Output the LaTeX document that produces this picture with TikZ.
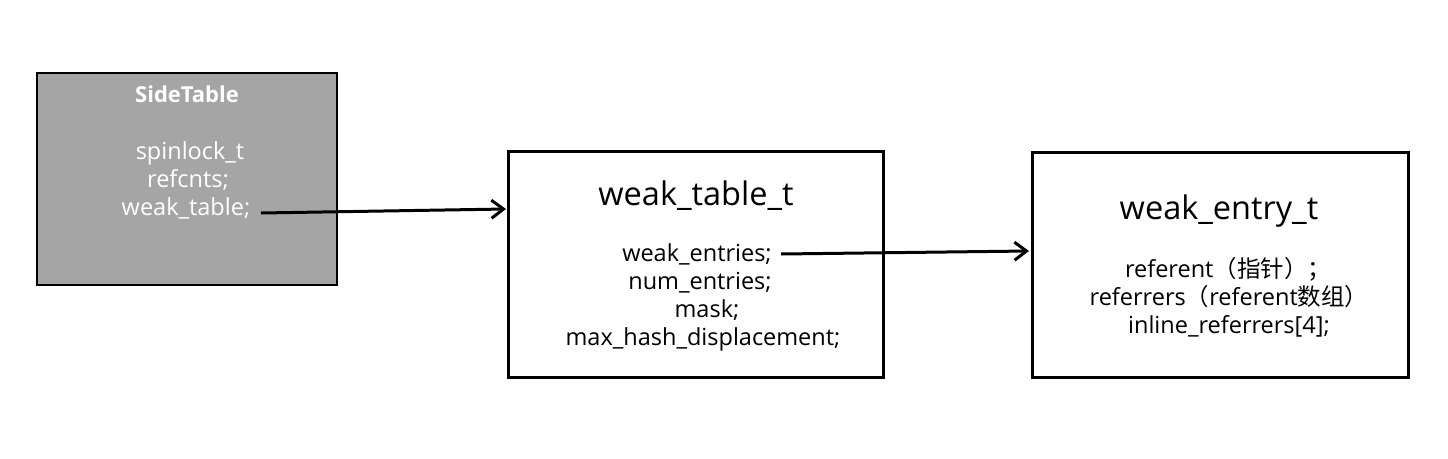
\documentclass[tikz,border=0pt]{standalone}
\usepackage{fontspec}
\setmainfont{Open Sans}
\newfontfamily\cjk{Noto Sans CJK SC}
\usetikzlibrary{arrows.meta}
\definecolor{sidegray}{RGB}{165,165,165}
\tikzset{
  boxnode/.style={draw=black, line width=3pt, minimum width=#1, inner sep=0pt},
  sidenode/.style={draw=black, fill=sidegray, line width=2pt, inner sep=0pt},
  txt/.style={inner sep=0pt, anchor=base, font=\fontsize{23.5}{28}\selectfont},
  ttl/.style={inner sep=0pt, anchor=base, font=\fontsize{32.5}{38}\selectfont},
  wtxt/.style={txt, text=white},
  conn/.style={line width=3pt, -{Straight Barb[length=12pt,width=18pt,line width=3pt]}}
}
\begin{document}
\begin{tikzpicture}[x=1pt,y=-1pt]
\useasboundingbox[fill=white] (0,0) rectangle (1448,458);
% boxes
\node[sidenode, minimum width=300pt, minimum height=212pt] (side) at (187,179) {};
\node[boxnode=375pt, minimum height=226pt] (wt) at (695.5,264) {};
\node[boxnode=376pt, minimum height=225pt] (we) at (1220,264.5) {};
% SideTable text
\node[wtxt, font=\fontsize{22}{26}\selectfont\bfseries] (sttl) at (187,102) {SideTable};
\node[wtxt] (s1) at (190,159) {spinlock\_t};
\node[wtxt] (s2) at (188,187) {refcnts;};
\node[wtxt] (s3) at (186,215) {weak\_table;};
% weak_table_t text
\node[ttl] (wtt) at (696,205) {weak\_table\_t};
\node[txt] (w1) at (697,261) {weak\_entries;};
\node[txt] (w2) at (700,289) {num\_entries;};
\node[txt] (w3) at (707,317) {mask;};
\node[txt] (w4) at (703,345) {max\_hash\_displacement;};
% weak_entry_t text
\node[ttl] (wet) at (1219,219) {weak\_entry\_t};
\node[txt] (e1) at (1228,277) {referent{\cjk（指针）；}};
\node[txt] (e2) at (1229,305) {referrers{\cjk（}referent{\cjk 数组）}};
\node[txt] (e3) at (1229,333) {inline\_referrers[4];};
% connectors
\coordinate (a1s) at (261,213);
\coordinate (a1e) at (506,209);
\coordinate (a2s) at (781,254);
\coordinate (a2e) at (1029,251);
\draw[conn] (a1s) -- (a1e);
\draw[conn] (a2s) -- (a2e);
\end{tikzpicture}
\end{document}
